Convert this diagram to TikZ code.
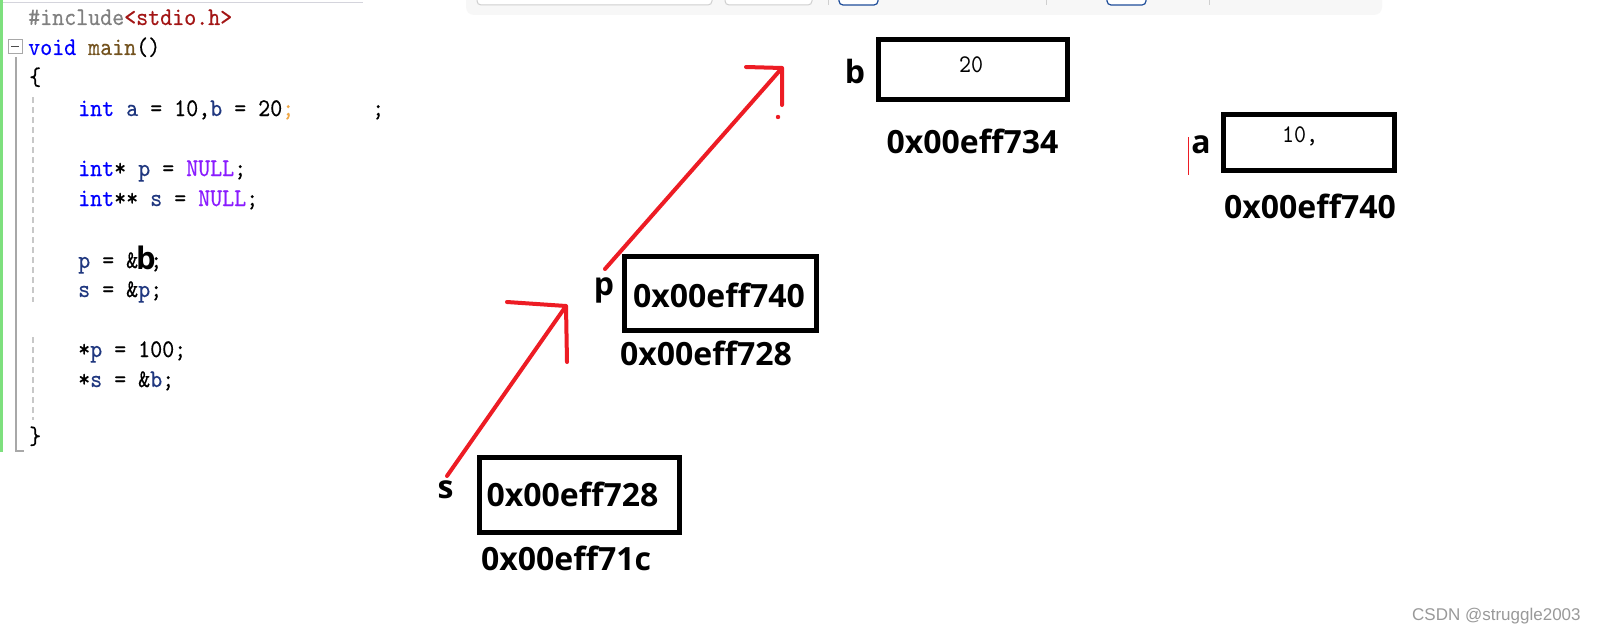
\documentclass[tikz,border=0pt]{standalone}
\usepackage{fontspec}
\newfontfamily\labfont{Open Sans}
\newfontfamily\wmfont{Liberation Sans}
\newfontfamily\codefont{lmmono10-regular.otf}[FakeStretch=0.9, FakeBold=0.3]
\newfontfamily\valfont{lmmono10-regular.otf}[FakeStretch=0.9]
\definecolor{kwblue}{HTML}{0000FF}
\definecolor{varblue}{HTML}{1F377F}
\definecolor{fnbrown}{HTML}{74531F}
\definecolor{macro}{HTML}{8A1BFF}
\definecolor{strred}{HTML}{A31515}
\definecolor{ppgray}{HTML}{808080}
\definecolor{arrowred}{HTML}{ED1C24}
\definecolor{bargreen}{HTML}{7EE07E}
\definecolor{guttergray}{HTML}{A8A8A8}
\definecolor{dashgray}{HTML}{C8C8C8}
\definecolor{tbgray}{HTML}{F7F7F7}
\definecolor{tbline}{HTML}{CFCFCF}
\definecolor{tbblue}{HTML}{1F4E9A}
\definecolor{semiorange}{HTML}{F0A848}
\definecolor{wmgray}{HTML}{999999}
\definecolor{topline}{HTML}{D4D4DC}
\begin{document}
\begin{tikzpicture}[x=1pt,y=-1pt,
  membox/.style={draw=black, line width=5pt, inner sep=0pt, outer sep=0pt},
  bigbold/.style={font=\labfont\bfseries\fontsize{32}{38}\selectfont, anchor=base, inner sep=0pt},
  code/.style={font=\codefont\fontsize{25.4}{30}\selectfont, anchor=base west, inner sep=0pt},
  boxval/.style={font=\valfont\fontsize{25.4}{30}\selectfont, anchor=base, inner sep=0pt},
  redarrow/.style={draw=arrowred, line width=4pt, line cap=round, line join=round},
  wm/.style={font=\wmfont\fontsize{17}{20}\selectfont, text=wmgray, anchor=base west, inner sep=0pt}
]
\useasboundingbox (0,0) rectangle (1599,634);
\clip (0,0) rectangle (1599,634);
\fill[white] (0,0) rectangle (1599,634);

% ---------- top toolbar (cut off) ----------
\fill[tbgray, rounded corners=8pt] (466,-20) rectangle (1382,15);
\filldraw[fill=white, draw=tbline, line width=1pt, rounded corners=4pt] (477,-10) rectangle (712,5);
\filldraw[fill=white, draw=tbline, line width=1pt, rounded corners=4pt] (725,-10) rectangle (812,5);
\filldraw[fill=white, draw=tbblue, line width=1.2pt, rounded corners=4pt] (839,-10) rectangle (878,5);
\filldraw[fill=white, draw=tbblue, line width=1.2pt, rounded corners=4pt] (1107,-10) rectangle (1146,5);
\draw[tbline, line width=0.8pt] (828,0) -- (828,5);
\draw[tbline, line width=0.8pt] (1046,0) -- (1046,5);
\draw[tbline, line width=0.8pt] (1209,0) -- (1209,5);

% ---------- code editor ----------
\draw[topline, line width=1pt] (0,3) -- (363,3);
\fill[bargreen] (0,0) rectangle (3,452);
\draw[guttergray, line width=1pt] (8,40) rectangle (22,54);
\draw[black!70, line width=1pt] (11,47) -- (19,47);
\draw[guttergray, line width=2pt] (16,57) -- (16,451) -- (24,451);
\draw[dashgray, line width=1.5pt, dash pattern=on 6pt off 4pt] (33,97) -- (33,302);
\draw[dashgray, line width=1.5pt, dash pattern=on 6pt off 4pt] (33,337) -- (33,420);

\node[code] (l1) at (28,25) {\textcolor{ppgray}{\#include}\textcolor{strred}{<stdio.h>}};
\node[code] (l2) at (28,55) {\textcolor{kwblue}{void} \textcolor{fnbrown}{main}()};
\node[code] (l3) at (29,85) {\{};
\node[code] (l4) at (78,116) {\textcolor{kwblue}{int} \textcolor{varblue}{a} = 10,\textcolor{varblue}{b} = 20\textcolor{semiorange}{;}};
\node[code] (l4b) at (372,116) {;};
\node[code] (l6) at (78,176) {\textcolor{kwblue}{int}* \textcolor{varblue}{p} = \textcolor{macro}{NULL};};
\node[code] (l7) at (78,206) {\textcolor{kwblue}{int}** \textcolor{varblue}{s} = \textcolor{macro}{NULL};};
\node[code] (l9) at (78,268) {\textcolor{varblue}{p} = \&\phantom{b};};
\node[font=\labfont\bfseries\fontsize{31}{36}\selectfont, anchor=base west, inner sep=0pt] (l9b) at (136,269) {b};
\node[code] (l10) at (78,297) {\textcolor{varblue}{s} = \&\textcolor{varblue}{p};};
\node[code] (l12) at (78,357) {*\textcolor{varblue}{p} = 100;};
\node[code] (l13) at (78,387) {*\textcolor{varblue}{s} = \&\textcolor{varblue}{b};};
\node[code] (l15) at (29,444) {\}};

% ---------- memory boxes ----------
\node[membox, minimum width=189pt, minimum height=59pt] (boxb) at (972.5,69.5) {};
\node[boxval] (valb) at (971,73) {20};
\node[bigbold] (labb) at (855,84) {b};
\node[bigbold] (addrb) at (972.5,153) {0x00eff734};

\node[membox, minimum width=171pt, minimum height=56pt] (boxa) at (1308.5,142) {};
\node[boxval] (vala) at (1300,142) {10,};
\node[bigbold] (laba) at (1201,153) {a};
\node[bigbold] (addra) at (1310,218) {0x00eff740};
\draw[arrowred, line width=1pt] (1188,137) coordinate (cur1) -- (1188,175) coordinate (cur2);

\node[membox, minimum width=192pt, minimum height=74pt] (boxp) at (720,293) {};
\node[bigbold] (valp) at (719,307) {0x00eff740};
\node[bigbold] (labp) at (604,295) {p};
\node[bigbold] (addrp) at (706,365) {0x00eff728};

\node[membox, minimum width=200pt, minimum height=75pt] (boxs) at (579,494.5) {};
\node[bigbold] (vals) at (572.5,506) {0x00eff728};
\node[bigbold] (labs) at (445.5,498) {s};
\node[bigbold] (addrs) at (566,570) {0x00eff71c};

% ---------- red hand-drawn arrows ----------
\coordinate (s1) at (447,476);
\coordinate (s2) at (566,306);
\coordinate (s2h) at (507,302);
\coordinate (s2v) at (567,362);
\draw[redarrow] (s1) -- (s2);
\draw[redarrow] (s2h) -- (s2) -- (s2v);

\coordinate (p1) at (605,269);
\coordinate (p2) at (782,68);
\coordinate (p2h) at (746,67);
\coordinate (p2v) at (782,105);
\coordinate (pdot) at (778,117);
\draw[redarrow] (p1) -- (p2);
\draw[redarrow] (p2h) -- (p2) -- (p2v);
\fill[arrowred] (pdot) circle (2.2pt);

% ---------- watermark ----------
\node[wm] (wmark) at (1412,620) {CSDN @struggle2003};
\end{tikzpicture}
\end{document}
